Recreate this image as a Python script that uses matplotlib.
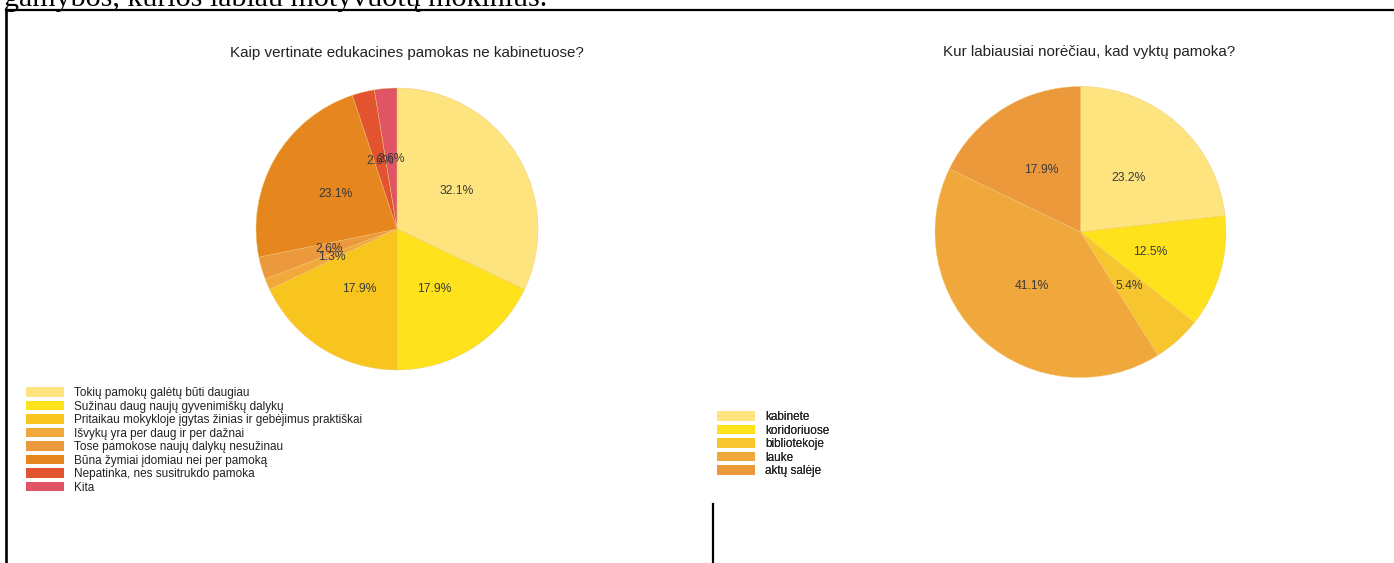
import matplotlib.pyplot as plt
from matplotlib.lines import Line2D

# data
q1_title = "Kaip vertinate edukacines pamokas ne kabinetuose?"
q1_labels = ["Tokių pamokų galėtų būti daugiau",
             "Sužinau daug naujų gyvenimiškų dalykų",
             "Pritaikau mokykloje įgytas žinias ir gebėjimus praktiškai",
             "Išvykų yra per daug ir per dažnai",
             "Tose pamokose naujų dalykų nesužinau",
             "Būna žymiai įdomiau nei per pamoką",
             "Nepatinka, nes susitrukdo pamoka",
             "Kita"]
q1_counts = [25, 14, 14, 1, 2, 18, 2, 2]
q1_colors = ["#fde47f", "#fde21c", "#f7c51e", "#f1a93d", "#ec983c",
             "#e5861f", "#e25430", "#e05565"]

q2_title = "Kur labiausiai norėčiau, kad vyktų pamoka?"
q2_labels = ["kabinete", "koridoriuose", "bibliotekoje", "lauke", "aktų salėje"]
q2_counts = [13, 7, 3, 23, 10]
q2_colors = ["#fde47f", "#fde21c", "#f7c62e", "#f0a83d", "#ec993c"]

W, H = 1394, 563
plt.rcParams['font.family'] = ['Liberation Sans', 'DejaVu Sans']
fig = plt.figure(figsize=(W / 100, H / 100), dpi=100)

# page overlay in pixel coords
bg = fig.add_axes([0, 0, 1, 1])
bg.set_xlim(0, W)
bg.set_ylim(H, 0)
bg.axis('off')
bg.text(4, 6.5, "gamybos, kurios labiau motyvuotų mokinius.", fontsize=21.6,
        family='Liberation Serif', va='baseline', ha='left', clip_on=False)
bg.add_line(Line2D([6, W], [9.5, 9.5], color='black', lw=1.6))
bg.add_line(Line2D([6, 6], [9.5, H], color='black', lw=1.9))
bg.add_line(Line2D([713, 713], [504, H], color='black', lw=1.6))


def draw_pie(cx, cy, r, counts, colors, labels, title, tsize, tx, ty, lx, ly):
    ax = fig.add_axes([(cx - r) / W, (H - cy - r) / H, 2 * r / W, 2 * r / H])
    wedges, _, autotexts = ax.pie(counts, colors=colors, startangle=90, counterclock=False,
                                  autopct='%1.1f%%', pctdistance=0.5,
                                  wedgeprops=dict(linewidth=0.3, edgecolor='#f2c870'),
                                  textprops=dict(fontsize=8.7, color='#3a3a3a'))
    ax.set_xlim(-1, 1)
    ax.set_ylim(-1, 1)
    bg.text(tx, ty, title, fontsize=tsize, color='#222222', ha='center', va='center')
    leg = bg.legend(wedges, labels, loc='upper left', bbox_to_anchor=(lx, ly),
                    bbox_transform=bg.transData, frameon=False, fontsize=8.5,
                    handlelength=3.25, handleheight=0.85, handletextpad=0.8,
                    labelspacing=0.13, borderpad=0, borderaxespad=0)
    for t in leg.get_texts():
        t.set_color('#222222')
    for p in leg.get_patches():
        p.set_edgecolor('none')
    bg.add_artist(leg)


draw_pie(397, 229, 141, q1_counts, q1_colors, q1_labels, q1_title, 10.9, 407, 53, 26, 387)
draw_pie(1080.5, 232, 145.5, q2_counts, q2_colors, q2_labels, q2_title, 10.9, 1089, 52, 717, 411)

fig.savefig("out.png", dpi=100)
